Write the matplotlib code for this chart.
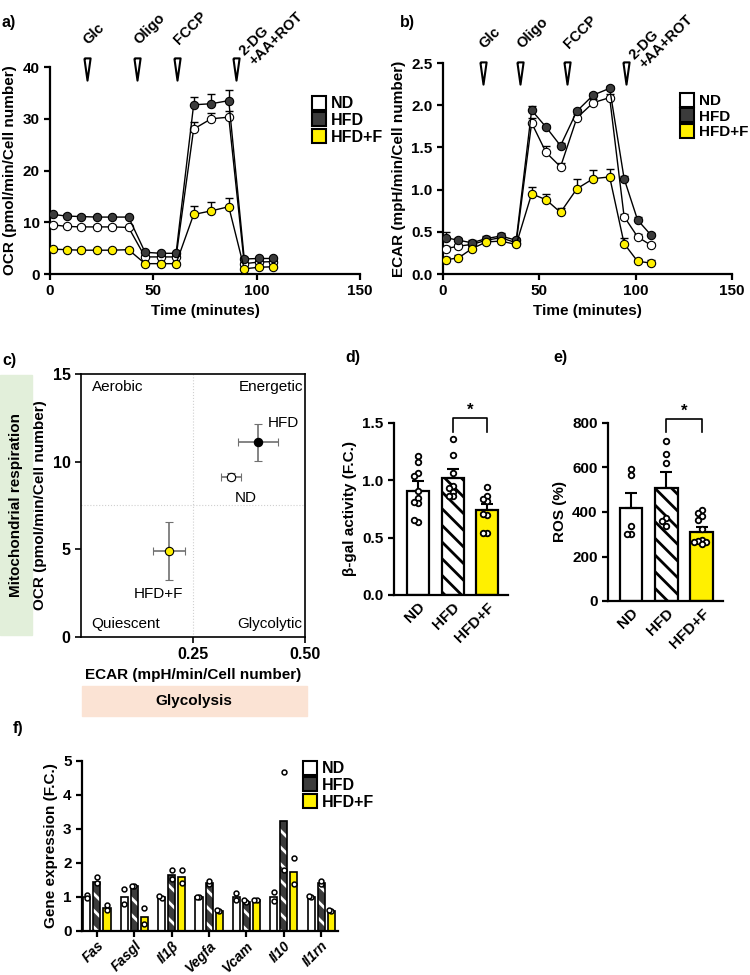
import numpy as np
import matplotlib
matplotlib.use('Agg')
import matplotlib.pyplot as plt
from matplotlib.lines import Line2D
from matplotlib.patches import Rectangle
from matplotlib.transforms import blended_transform_factory

plt.rcParams['font.family'] = ['Liberation Sans', 'DejaVu Sans']
plt.rcParams['font.weight'] = 'bold'
plt.rcParams['axes.labelweight'] = 'bold'
plt.rcParams['hatch.linewidth'] = 2.0

# ---------------- data ----------------
groups = ['ND', 'HFD', 'HFD+F']
c_nd, c_hfd, c_hfdf = 'white', '#3b3b3b', '#fff000'

# a) OCR time course
time = [1.5, 8, 15, 22.5, 30, 38, 46, 53.5, 61, 69.5, 78, 86.5, 94, 101, 108]
ocr_nd = [9.5, 9.2, 9.1, 9.1, 9.1, 9.0, 3.3, 3.3, 3.3, 28.0, 30.0, 30.3, 2.0, 2.3, 2.4]
ocr_hfd = [11.5, 11.2, 11.1, 11.0, 11.0, 11.0, 4.2, 4.0, 4.0, 32.7, 32.9, 33.5, 2.9, 3.0, 3.0]
ocr_hfdf = [4.8, 4.7, 4.6, 4.6, 4.6, 4.7, 2.0, 2.0, 2.0, 11.5, 12.2, 13.0, 1.0, 1.3, 1.4]
ocr_nd_err = [0.3] * 9 + [1.4, 1.2, 1.2] + [0.3] * 3
ocr_hfd_err = [0.3] * 9 + [1.5, 1.8, 2.0] + [0.3] * 3
ocr_hfdf_err = [0.3] * 9 + [1.6, 1.8, 1.6] + [0.3] * 3
inj_a = [17.7, 42, 61.4, 89.8]

# b) ECAR time course
ecar_nd = [0.30, 0.33, 0.35, 0.40, 0.43, 0.37, 1.79, 1.44, 1.27, 1.85, 2.03, 2.09, 0.68, 0.44, 0.34]
ecar_hfd = [0.43, 0.40, 0.37, 0.42, 0.45, 0.40, 1.94, 1.74, 1.52, 1.93, 2.12, 2.20, 1.13, 0.64, 0.46]
ecar_hfdf = [0.17, 0.19, 0.30, 0.38, 0.39, 0.35, 0.95, 0.88, 0.73, 1.01, 1.13, 1.15, 0.36, 0.15, 0.13]
ecar_nd_err = [0.03] * 6 + [0.06, 0.08, 0.05] + [0.04, 0.04, 0.04] + [0.03] * 3
ecar_hfd_err = [0.07] + [0.03] * 5 + [0.05, 0.03, 0.03] + [0.03] * 3 + [0.03] * 3
ecar_hfdf_err = [0.03] * 6 + [0.08, 0.07, 0.05] + [0.11, 0.10, 0.10] + [0.07, 0.03, 0.03]
inj_b = [20.6, 40, 64.5, 95]
inj_names = ['Glc', 'Oligo', 'FCCP', '2-DG\n+AA+ROT']

# c) energy map
c_ecar = [0.335, 0.395, 0.196]
c_ocr = [9.15, 11.1, 4.9]
c_ecar_err = [0.023, 0.045, 0.036]
c_ocr_err = [0.2, 1.05, 1.65]

# d) beta-gal
d_mean = [0.91, 1.02, 0.74]
d_sem = [0.08, 0.08, 0.05]
d_pts = [[1.21, 1.16, 1.06, 1.04, 0.91, 0.85, 0.80, 0.81, 0.64, 0.65],
         [1.36, 1.22, 1.06, 0.95, 0.93, 0.90, 0.86, 0.86],
         [0.94, 0.86, 0.82, 0.84, 0.70, 0.71, 0.54, 0.54]]

# e) ROS
e_mean = [418, 508, 311]
e_sem = [67, 73, 23]
e_pts = [[592, 565, 335, 300, 300],
         [719, 661, 620, 373, 361, 338],
         [410, 395, 380, 365, 325, 275, 270, 265, 255, 265]]

# f) gene expression
genes = ['Fas', 'Fasgl', 'Il1β', 'Vegfa', 'Vcam', 'Il10', 'Il1rn']
f_nd = [0.99, 0.99, 0.99, 1.00, 0.99, 0.99, 1.00]
f_hfd = [1.45, 1.32, 1.65, 1.42, 0.86, 3.23, 1.42]
f_hfdf = [0.68, 0.42, 1.58, 0.60, 0.90, 1.73, 0.60]
f_nd_pts = [[1.06, 0.96], [1.23, 0.79], [0.96, 1.03], [1.0, 1.0], [1.13, 0.90], [1.15, 0.88], [0.99, 1.02]]
f_hfd_pts = [[1.60, 1.41], [1.31, 1.31], [1.79, 1.53], [1.38, 1.48], [0.85, 0.90], [4.69, 1.79], [1.38, 1.47]]
f_hfdf_pts = [[0.77, 0.62], [0.69, 0.20], [1.79, 1.41], [0.60, 0.63], [0.90, 0.92], [2.14, 1.38], [0.58, 0.63]]


# ---------------- helpers ----------------
def swarm(vals, dy, dx):
    placed, offs = [], []
    for v in vals:
        near = [o for pv, o in placed if abs(pv - v) < dy]
        for c in [0, -dx, dx, -2 * dx, 2 * dx, -3 * dx, 3 * dx]:
            if all(abs(c - o) > dx * 0.5 for o in near):
                break
        placed.append((v, c))
        offs.append(c)
    return np.array(offs)


def clean(ax, lw=1.6):
    ax.spines['top'].set_visible(False)
    ax.spines['right'].set_visible(False)
    ax.spines['left'].set_linewidth(lw)
    ax.spines['bottom'].set_linewidth(lw)
    ax.tick_params(width=lw, length=4, labelsize=11)


def hatched_bar(ax, x, h, w, face, hatch_col, lw=1.5):
    ax.bar(x, h, w, color=face, edgecolor=hatch_col, hatch='\\\\', linewidth=0, zorder=2)
    ax.bar(x, h, w, fill=False, edgecolor='black', linewidth=lw, zorder=3)


def square_handles():
    return [Line2D([], [], marker='s', ls='none', ms=10, mfc=c, mec='black', mew=1.5)
            for c in (c_nd, c_hfd, c_hfdf)]


def legend_kw(size):
    return dict(loc='upper left', frameon=False, handletextpad=0.15, labelspacing=0.1,
                borderaxespad=0, handlelength=1.2, prop={'weight': 'bold', 'size': size})


fig = plt.figure(figsize=(7.5, 9.75), dpi=100)


def px_ax(l, t, r, b):
    return fig.add_axes([l / 750, 1 - b / 975, (r - l) / 750, (b - t) / 975])


# ---------------- a & b ----------------
def timecourse(ax, series, inj, ytri, ylim, yticks, ylabel):
    for vals, errs, fc in series:
        ax.errorbar(time, vals, yerr=[np.zeros(len(errs)), errs], fmt='none',
                    ecolor='black', elinewidth=1, capsize=3, capthick=1, zorder=2)
        ax.plot(time, vals, '-o', color='black', lw=1, mfc=fc, mec='black',
                ms=6, mew=0.8, zorder=3)
    clean(ax)
    ax.set_xlim(0, 150)
    ax.set_ylim(*ylim)
    ax.set_xticks([0, 50, 100, 150])
    ax.set_yticks(yticks)
    ax.set_xlabel('Time (minutes)', fontsize=11)
    ax.set_ylabel(ylabel, fontsize=11)
    tr = blended_transform_factory(ax.transData, ax.transAxes)
    tri = [(-0.28, 1), (0.28, 1), (0, -1), (-0.28, 1)]
    for tm, nm in zip(inj, inj_names):
        ax.plot([tm], [ytri], marker=tri, ms=16, mfc='white', mec='black', mew=1.5,
                transform=tr, clip_on=False, ls='none')
        off = (15, 1) if '\n' in nm else (3, 16)
        ax.annotate(nm, xy=(tm, ytri), xycoords=tr, xytext=off, textcoords='offset points',
                    rotation=45, ha='left', va='bottom', rotation_mode='anchor',
                    fontsize=10.5, multialignment='left', linespacing=1.0)


axa = px_ax(50, 67, 360, 274)
timecourse(axa, [(ocr_nd, ocr_nd_err, c_nd), (ocr_hfd, ocr_hfd_err, c_hfd),
                 (ocr_hfdf, ocr_hfdf_err, c_hfdf)],
           inj_a, 0.99, (0, 40), [0, 10, 20, 30, 40], 'OCR (pmol/min/Cell number)')
fig.legend(square_handles(), groups, bbox_to_anchor=(303 / 750, 1 - 90 / 975), **legend_kw(11.5))

axb = px_ax(443, 63, 732, 274)
timecourse(axb, [(ecar_nd, ecar_nd_err, c_nd), (ecar_hfd, ecar_hfd_err, c_hfd),
                 (ecar_hfdf, ecar_hfdf_err, c_hfdf)],
           inj_b, 0.953, (0, 2.5), [0, 0.5, 1.0, 1.5, 2.0, 2.5], 'ECAR (mpH/min/Cell number)')
axb.yaxis.set_major_formatter(matplotlib.ticker.FormatStrFormatter('%.1f'))
fig.legend(square_handles(), groups, bbox_to_anchor=(672 / 750, 1 - 88 / 975), **legend_kw(11))

# ---------------- c ----------------
axc = px_ax(81, 374, 305, 637)
axc.axvline(0.25, color='#d0d0d0', lw=0.8, ls=':')
axc.axhline(7.5, color='#d0d0d0', lw=0.8, ls=':')
for x, y, xe, ye, fc in zip(c_ecar, c_ocr, c_ecar_err, c_ocr_err, (c_nd, 'black', c_hfdf)):
    axc.errorbar(x, y, xerr=xe, yerr=ye, fmt='o', ecolor='#707070', elinewidth=1.2,
                 capsize=3, capthick=1.2, mfc=fc, mec='black', ms=6, mew=0.8)
axc.set_xlim(0, 0.5)
axc.set_ylim(0, 15)
axc.set_xticks([0.25, 0.5])
axc.set_xticklabels(['0.25', '0.50'])
axc.set_yticks([0, 5, 10, 15])
for s in axc.spines.values():
    s.set_linewidth(1.2)
axc.tick_params(width=1.2, length=4, labelsize=11.5)
axc.set_xlabel('ECAR (mpH/min/Cell number)', fontsize=11)
axc.set_ylabel('OCR (pmol/min/Cell number)', fontsize=11)
qkw = dict(fontsize=11, fontweight='normal')
axc.text(0.024, 14.25, 'Aerobic', ha='left', va='center', **qkw)
axc.text(0.495, 14.25, 'Energetic', ha='right', va='center', **qkw)
axc.text(0.022, 0.75, 'Quiescent', ha='left', va='center', **qkw)
axc.text(0.493, 0.75, 'Glycolytic', ha='right', va='center', **qkw)
axc.text(0.451, 12.2, 'HFD', ha='center', va='center', **qkw)
axc.text(0.368, 7.9, 'ND', ha='center', va='center', **qkw)
axc.text(0.172, 2.45, 'HFD+F', ha='center', va='center', **qkw)

fig.patches.append(Rectangle((0, 1 - 635 / 975), 32 / 750, 260 / 975, transform=fig.transFigure,
                             color='#e2efda', zorder=0))
fig.text(16 / 750, 1 - 505 / 975, 'Mitochondrial respiration', rotation=90, ha='center',
         va='center', fontsize=11)
fig.patches.append(Rectangle((82 / 750, 1 - 716 / 975), 225 / 750, 30 / 975, transform=fig.transFigure,
                             color='#fbe3d4', zorder=0))
fig.text(194 / 750, 1 - 701 / 975, 'Glycolysis', ha='center', va='center', fontsize=11)


# ---------------- d & e ----------------
def barpanel(ax, means, sems, pts, dy, xlim, ylim, yticks, ylabel, brk):
    x = np.arange(3)
    ax.bar(0, means[0], 0.64, color=c_nd, edgecolor='black', linewidth=1.6, zorder=2)
    hatched_bar(ax, 1, means[1], 0.64, 'white', 'black', lw=1.6)
    ax.bar(2, means[2], 0.64, color=c_hfdf, edgecolor='black', linewidth=1.6, zorder=2)
    ax.errorbar(x, means, yerr=[np.zeros(3), sems], fmt='none', ecolor='black',
                elinewidth=1.5, capsize=4, capthick=1.5, zorder=4)
    for i, p in enumerate(pts):
        ax.plot(i + swarm(p, dy, 0.11), p, 'o', ms=4, mfc='white', mec='black', mew=1.3,
                ls='none', zorder=5)
    clean(ax)
    ax.set_xlim(*xlim)
    ax.set_ylim(*ylim)
    ax.set_yticks(yticks)
    ax.set_xticks(x)
    ax.set_xticklabels(groups, rotation=45, ha='right', rotation_mode='anchor')
    ax.tick_params(axis='x', length=0)
    ax.set_ylabel(ylabel, fontsize=11)
    lo, hi, st = brk
    ax.plot([1, 1, 2, 2], [lo, hi, hi, lo], color='black', lw=1.2, clip_on=False)
    ax.text(1.5, st, '*', ha='center', va='center', fontsize=12)


axd = px_ax(394, 423, 508, 595)
barpanel(axd, d_mean, d_sem, d_pts, 0.03, (-0.7, 2.6), (0, 1.5), [0, 0.5, 1.0, 1.5],
         'β-gal activity (F.C.)', (1.42, 1.54, 1.61))
axd.yaxis.set_major_formatter(matplotlib.ticker.FormatStrFormatter('%.1f'))

axe = px_ax(608, 423, 723, 601)
barpanel(axe, e_mean, e_sem, e_pts, 20, (-0.65, 2.6), (0, 800), [0, 200, 400, 600, 800],
         'ROS (%)', (761, 817, 851))

# ---------------- f ----------------
axf = px_ax(82, 761, 338, 931)
gx = np.arange(len(genes))
w, off = 0.19, 0.27
axf.bar(gx - off, f_nd, w, color=c_nd, edgecolor='black', linewidth=1.2, zorder=2)
hatched_bar(axf, gx, f_hfd, w, c_hfd, 'white', lw=1.2)
axf.bar(gx + off, f_hfdf, w, color=c_hfdf, edgecolor='black', linewidth=1.2, zorder=2)
for pts_list, dx in ((f_nd_pts, -off), (f_hfd_pts, 0), (f_hfdf_pts, off)):
    for i, p in enumerate(pts_list):
        axf.plot(i + dx + swarm(p, 0.08, 0.06), p, 'o', ms=3.5, mfc='white', mec='black',
                 mew=1.1, ls='none', zorder=5)
clean(axf)
axf.set_xlim(-0.4, 6.45)
axf.set_ylim(0, 5)
axf.set_yticks(range(6))
axf.set_xticks(gx)
axf.set_xticklabels(genes, rotation=45, ha='right', rotation_mode='anchor', style='italic',
                    fontsize=10)
axf.tick_params(axis='x', pad=1.5)
axf.set_ylabel('Gene expression (F.C.)', fontsize=11)
fig.legend(square_handles(), groups, bbox_to_anchor=(294 / 750, 1 - 755 / 975), **legend_kw(11.5))

# panel letters
for lab, x, y in (('a)', 2, 22), ('b)', 400, 22), ('c)', 2, 360), ('d)', 345, 358),
                  ('e)', 553, 358), ('f)', 13, 728)):
    fig.text(x / 750, 1 - y / 975, lab, ha='left', va='center', fontsize=11.5)

fig.savefig('out.png', dpi=100)
